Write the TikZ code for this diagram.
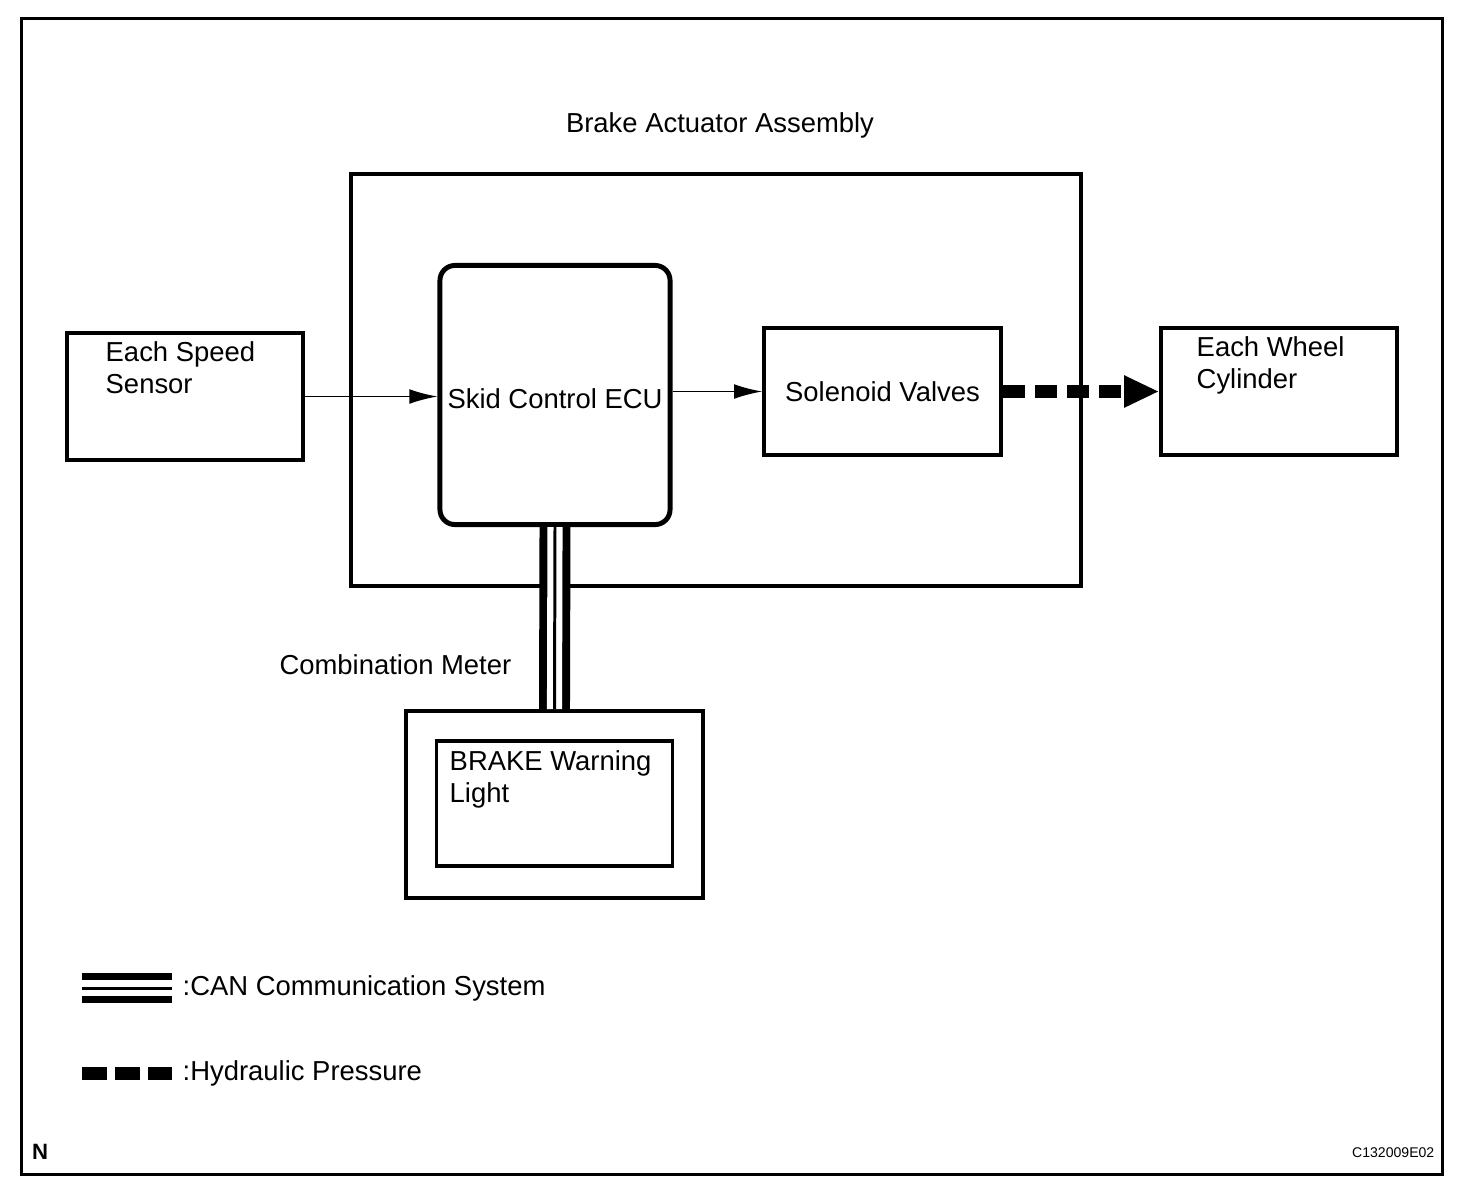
\documentclass[tikz,border=0pt]{standalone}
\usepackage{fontspec}
\setmainfont{Liberation Sans}
\usetikzlibrary{arrows.meta}
\begin{document}
\begin{tikzpicture}[x=0.01cm,y=-0.01cm,
	box/.style={draw,line width=1pt,inner sep=0pt},
	txt/.style={font=\fontsize{7.8}{9.1}\selectfont,inner sep=0pt},
	sig/.style={line width=0.45pt,-{Latex[length=8pt,width=4.2pt]}},
	hyd/.style={line width=3.7pt,dash pattern=on 6.3pt off 2.8pt,-{Triangle[length=10pt,width=8.5pt]}},
	can/.style={white,line width=4.3pt,preaction={draw,black,line width=8.8pt},postaction={draw,black,line width=0.85pt}}]
			\useasboundingbox (0,0) rectangle (1472,1190);
			% Khung
			\draw[line width=0.85pt] (21.5,18.5) rectangle (1442.5,1174.5);
			% Cac khoi
			\node[box,minimum width=7.3cm,minimum height=4.12cm] (assy) at (716,380) {};
			\node[txt] (assytxt) at (720,125) {Brake Actuator Assembly};
			\node[box,line width=1.4pt,rounded corners=0.15cm,minimum width=2.3cm,minimum height=2.59cm] (ecu) at (555,395) {};
			\node[txt] (ecutxt) at (555,399) {Skid Control ECU};
			\node[box,minimum width=2.36cm,minimum height=1.27cm] (sensor) at (185,396.5) {};
			\node[txt,align=left,anchor=north west] (sensortxt) at (105,341) {Each Speed\\Sensor};
			\node[box,txt,minimum width=2.37cm,minimum height=1.27cm] (sol) at (882.5,391.5) {Solenoid Valves};
			\node[box,minimum width=2.36cm,minimum height=1.27cm] (wheel) at (1279,391.5) {};
			\node[txt,align=left,anchor=north west] (wheeltxt) at (1196,336) {Each Wheel\\Cylinder};
			\node[box,minimum width=2.97cm,minimum height=1.87cm] (meter) at (554.5,804.5) {};
			\node[box,minimum width=2.355cm,minimum height=1.25cm] (lamp) at (554.5,803.5) {};
			\node[txt,align=left,anchor=north west] (lamptxt) at (449,750) {BRAKE Warning\\Light};
			\node[txt,anchor=east] (metertxt) at (512,665) {Combination Meter};
			% Duong noi
			\draw[sig] (sensor.east) -- (sensor.east -| ecu.west);
			\draw[sig] (sol.west -| ecu.east) -- (sol.west);
			\draw[hyd] (sol.east) -- (wheel.west);
			\draw[can] (ecu.south) -- (meter.north);
			% Chu thich
			\coordinate (canA) at (82,988);
			\coordinate (canB) at (172,988);
			\draw[can] (canA) -- (canB);
			\node[txt,anchor=west] (cantxt) at (182,988) {:CAN Communication System};
			\coordinate (hydA) at (82,1073);
			\coordinate (hydB) at (172,1073);
			\draw[line width=3.7pt,dash pattern=on 7.1pt off 2.3pt] (hydA) -- (hydB);
			\node[txt,anchor=west] (hydtxt) at (182,1073) {:Hydraulic Pressure};
			\node[font=\fontsize{6.3}{7}\selectfont\bfseries,inner sep=0pt] (n) at (40,1152) {N};
			\node[font=\fontsize{4}{5}\selectfont,inner sep=0pt,anchor=east] (code) at (1435,1153) {C132009E02};
		\end{tikzpicture}
\end{document}
